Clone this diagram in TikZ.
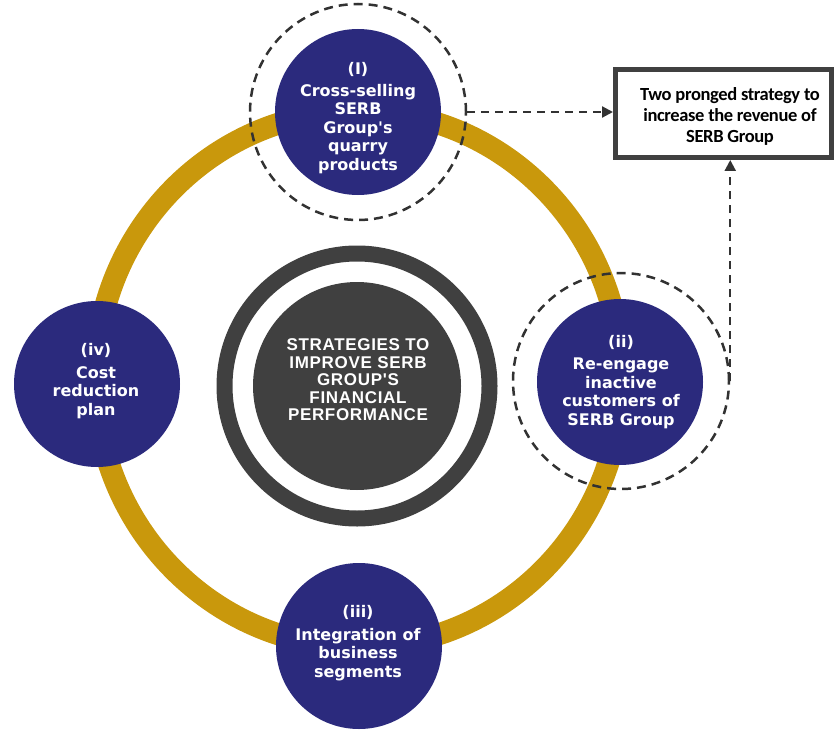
\documentclass[tikz,border=0pt]{standalone}
\usepackage{fontspec}
\usetikzlibrary{arrows.meta}
\newfontfamily\circfont{DejaVu Sans}
\newfontfamily\ctrfont[LetterSpace=4]{Liberation Sans}
\newfontfamily\boxfont[LetterSpace=-2]{Carlito}
\definecolor{navy}{RGB}{43,42,125}
\definecolor{goldring}{RGB}{201,152,12}
\definecolor{ctrgray}{RGB}{64,64,64}
\definecolor{dashgray}{RGB}{50,50,50}
\begin{document}
\begin{tikzpicture}[x=1pt,y=-1pt,
  strat/.style={circle, fill=navy, minimum size=166pt, inner sep=0pt},
  strattext/.style={text=white, align=center, inner sep=0pt, font=\circfont\bfseries\fontsize{16}{18.5}\selectfont},
  dashring/.style={circle, draw=dashgray, line width=2.5pt, dash pattern=on 9pt off 6pt, minimum size=216pt, inner sep=0pt},
  link/.style={draw=dashgray, line width=2.2pt, dash pattern=on 8pt off 6pt, -{Triangle[length=11pt,width=11pt]}},
]
\useasboundingbox (0,0) rectangle (837,730);
% gold ring
\draw[goldring, line width=22pt] (358.5,379) ellipse [x radius=263pt, y radius=268pt];
% centre
\node[circle, draw=ctrgray, line width=16pt, minimum size=265pt, inner sep=0pt] (ctrring) at (357,386) {};
\node[circle, fill=ctrgray, minimum size=208pt, inner sep=0pt] (ctr) at (357,386) {};
\node[text=white, align=center, inner sep=0pt, font=\ctrfont\bfseries\fontsize{17}{17.5}\selectfont] (ctrlabel) at (358,380)
  {STRATEGIES TO\\IMPROVE SERB\\GROUP'S\\FINANCIAL\\PERFORMANCE};
% strategy circles
\node[strat] (s1) at (358,112) {};
\node[strat] (s2) at (620,382) {};
\node[strat] (s3) at (359,646) {};
\node[strat] (s4) at (97,384) {};
\node[strattext] (t1) at (358,118) {(I)\\[3pt]Cross-selling\\SERB\\Group's\\quarry\\products};
\node[strattext] (t2) at (621,382) {(ii)\\[4pt]Re-engage\\inactive\\customers of\\SERB Group};
\node[strattext] (t3) at (358,643) {(iii)\\[4pt]Integration of\\business\\segments};
\node[strattext] (t4) at (96,381) {(iv)\\[4pt]Cost\\reduction\\plan};
% dashed rings
\node[dashring] (d1) at (358,112) {};
\node[dashring] (d2) at (621,381) {};
% goal box
\node[draw=ctrgray, line width=5pt, minimum width=216pt, minimum height=88pt, inner sep=0pt] (goal) at (723.5,113.5) {};
\node[align=center, inner sep=0pt, font=\boxfont\bfseries\fontsize{18.5}{21}\selectfont] (goaltext) at (730,116)
  {Two pronged strategy to\\increase the revenue of\\SERB Group};
% links
\draw[link] (d1.east) -- (goal.west |- d1.east);
\draw[link] (d2.east) -- (d2.east |- goal.south);
\end{tikzpicture}
\end{document}
